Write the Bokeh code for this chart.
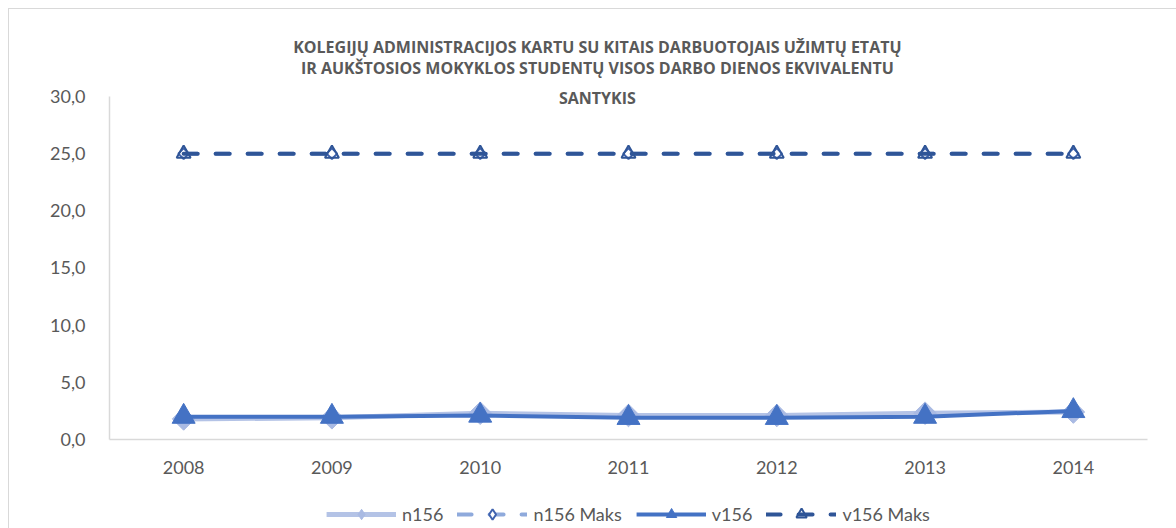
import math
from bokeh.plotting import figure
from bokeh.layouts import column
from bokeh.models import (FactorRange, Range1d, FixedTicker, Label, Legend, LegendItem)
from bokeh.embed import file_html
from bokeh.resources import INLINE

years = ["2008", "2009", "2010", "2011", "2012", "2013", "2014"]
n156 = [1.8, 1.9, 2.3, 2.1, 2.1, 2.3, 2.4]
n156_maks = [25.0, 25.0, 25.0, 25.0, 25.0, 25.0, 25.0]
v156 = [2.0, 2.0, 2.1, 1.9, 1.9, 2.0, 2.5]
v156_maks = [25.0, 25.0, 25.0, 25.0, 25.0, 25.0, 25.0]
y_ticks = [0, 5, 10, 15, 20, 25, 30]
y_tick_labels = ["0,0", "5,0", "10,0", "15,0", "20,0", "25,0", "30,0"]
title_lines = [
    "KOLEGIJŲ ADMINISTRACIJOS KARTU SU KITAIS DARBUOTOJAIS UŽIMTŲ ETATŲ",
    "IR AUKŠTOSIOS MOKYKLOS STUDENTŲ VISOS DARBO DIENOS EKVIVALENTU",
    "SANTYKIS",
]
series_names = ["n156", "n156 Maks", "v156", "v156 Maks"]

TXT = "#595959"
FONT = "Lato"
ROT = math.pi / 4

p = figure(width=1168, height=480, x_range=FactorRange(*years, range_padding=0),
           y_range=Range1d(0, 35.685), output_backend="svg", toolbar_location=None,
           min_border_left=100, min_border_right=30, min_border_top=22,
           min_border_bottom=50)
p.outline_line_color = None
p.xgrid.grid_line_color = None
p.ygrid.grid_line_color = None

p.yaxis.ticker = FixedTicker(ticks=y_ticks)
p.yaxis.bounds = (0, 30)
p.yaxis.major_label_overrides = {t: l for t, l in zip(y_ticks, y_tick_labels)}
for ax in (p.xaxis[0], p.yaxis[0]):
    ax.axis_line_color = "#D9D9D9"
    ax.axis_line_width = 1.5
    ax.major_tick_line_color = None
    ax.minor_tick_line_color = None
    ax.major_label_text_color = TXT
    ax.major_label_text_font = FONT
    ax.major_label_text_font_size = "18px"
p.yaxis.major_label_standoff = 18
p.xaxis.major_label_standoff = 15


def draw(fig, xs, ys_list, big=(16, 23), small=(7.5, 14), legend_shapes=False):
    a, b, c, d = ys_list
    dia = dict(marker="diamond") if legend_shapes else dict(marker="square", angle=ROT)
    r1l = fig.line(xs, a, line_color="#B4C3E6", line_width=5)
    r1m = fig.scatter(xs, a, size=big[0], fill_color="#A9BAE3",
                      line_color="#A9BAE3", **dia)
    r2l = fig.line(xs, b, line_color="#8FAADC", line_width=4,
                   line_dash="14 18", line_cap="round")
    r2m = fig.scatter(xs, b, size=small[0], fill_color="white",
                      line_color="#3F62AE", line_width=2, **dia)
    r3l = fig.line(xs, c, line_color="#4472C4", line_width=4)
    r3m = fig.scatter(xs, c, marker="triangle", size=big[1],
                      fill_color="#4472C4", line_color="#4472C4")
    r4l = fig.line(xs, d, line_color="#2F5597", line_width=4,
                   line_dash="14 18", line_cap="round")
    r4m = fig.scatter(xs, d, marker="triangle", size=small[1], fill_alpha=0,
                      line_color="#2F5597", line_width=2)
    return [[r1l, r1m], [r2l, r2m], [r3l, r3m], [r4l, r4m]]


draw(p, years, [n156, n156_maks, v156, v156_maks])

# title (inside the frame, above the 30 level)
for txt, y in zip(title_lines, [34.37, 32.45, 29.9]):
    p.add_layout(Label(x=3.29, y=y, text=txt, text_align="center",
                       text_baseline="middle", text_font="Open Sans",
                       text_font_size="16px", text_font_style="bold",
                       text_color=TXT))

# legend strip (series drawn out of view; only the legend shows)
lf = figure(width=1168, height=40, output_backend="svg", toolbar_location=None,
            x_range=FactorRange(*years), y_range=Range1d(100, 101),
            x_axis_location=None, y_axis_location=None,
            min_border_left=14, min_border_right=0, min_border_top=10,
            min_border_bottom=0)
lf.outline_line_color = None
lf.xgrid.grid_line_color = None
lf.ygrid.grid_line_color = None
groups = draw(lf, years, [n156, n156_maks, v156, v156_maks], legend_shapes=True)
legend = Legend(items=[LegendItem(label=n, renderers=g)
                       for n, g in zip(series_names, groups)],
                orientation="horizontal", location="center")
legend.glyph_width = 70
legend.glyph_height = 26
legend.label_text_font = FONT
legend.label_text_font_size = "18px"
legend.label_text_color = TXT
legend.label_standoff = 6
legend.spacing = 14
legend.border_line_color = None
legend.background_fill_alpha = 0
legend.margin = 0
legend.padding = 0
lf.add_layout(legend)

layout = column(p, lf, spacing=0)
layout.styles = {"margin-left": "8px", "margin-top": "8px",
                 "border-left": "1px solid #D9D9D9",
                 "border-top": "1px solid #D9D9D9"}

open("out.html", "w").write(file_html(layout, INLINE))
